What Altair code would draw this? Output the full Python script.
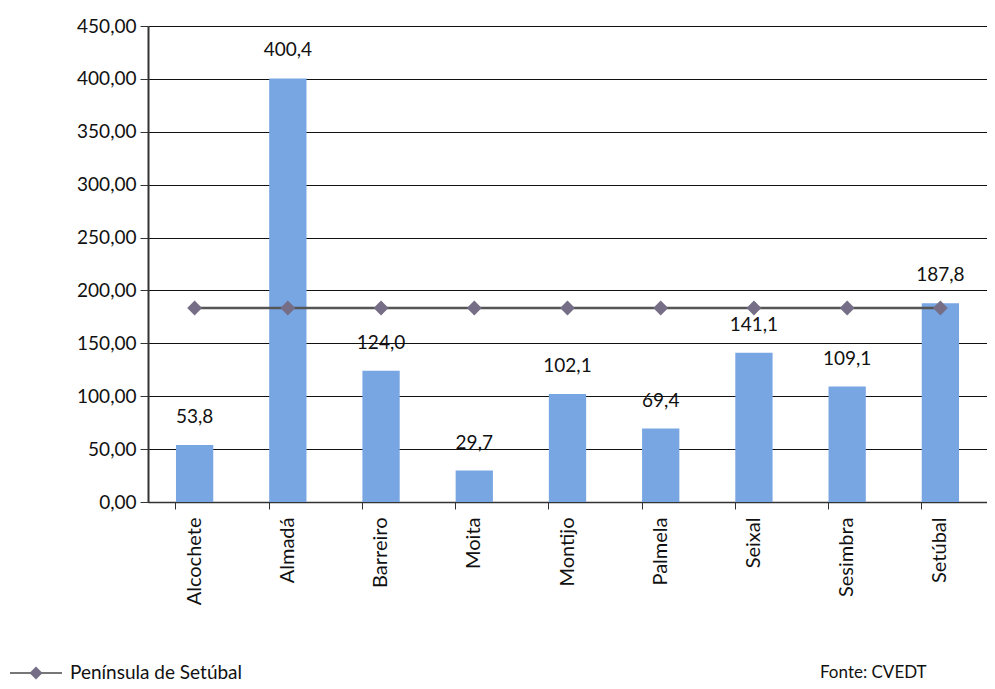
import altair as alt
import pandas as pd

municipios = ["Alcochete", "Almadá", "Barreiro", "Moita", "Montijo", "Palmela", "Seixal", "Sesimbra", "Setúbal"]
valores = [53.8, 400.4, 124.0, 29.7, 102.1, 69.4, 141.1, 109.1, 187.8]
peninsula = [183.4] * 9
rotulos = ["53,8", "400,4", "124,0", "29,7", "102,1", "69,4", "141,1", "109,1", "187,8"]

df = pd.DataFrame({"m": municipios, "v": valores, "p": peninsula, "r": rotulos})

FONT = "Lato"
x = alt.X("m:N", sort=municipios, title=None,
          scale=alt.Scale(paddingInner=0.6, paddingOuter=0.3),
          axis=alt.Axis(labelAngle=-90, labelFontSize=20, labelFont=FONT, labelColor="#111",
                        domainColor="#333", domainWidth=1.5, tickColor="#333", tickSize=7,
                        labelPadding=8, bandPosition=0, ticks=True))

base = alt.Chart(df)

bars = base.mark_bar(color="#78a6e3").encode(
    x=x,
    y=alt.Y("v:Q", title=None, scale=alt.Scale(domain=[0, 450]),
            axis=alt.Axis(values=list(range(0, 451, 50)), labelExpr="replace(format(datum.value, '.2f'), '.', ',')",
                          labelFontSize=19, labelFont=FONT, labelColor="#111",
                          domainColor="#333", domainWidth=2, tickColor="#333", tickSize=8,
                          gridColor="#111", gridWidth=1, labelPadding=4)),
)

labels = base.mark_text(baseline="middle", dy=-28, fontSize=19, font=FONT, color="#111").encode(
    x=alt.X("m:N", sort=municipios), y="v:Q", text="r:N"
)

line = base.mark_line(color="#555", strokeWidth=2.5).encode(
    x=alt.X("m:N", sort=municipios), y="p:Q"
)
pts = base.mark_point(shape="diamond", filled=True, size=220, color="#756e86", opacity=1).encode(
    x=alt.X("m:N", sort=municipios), y="p:Q"
)

LY = 647
leg_line = alt.Chart(pd.DataFrame({"a": [0]})).mark_rule(color="#777", strokeWidth=2).encode(
    x=alt.value(-138), x2=alt.value(-86), y=alt.value(LY)
)
leg_pt = alt.Chart(pd.DataFrame({"a": [0]})).mark_point(shape="diamond", filled=True, size=170, color="#756e86", opacity=1).encode(
    x=alt.value(-112), y=alt.value(LY)
)
leg_txt = alt.Chart(pd.DataFrame({"t": ["Península de Setúbal"]})).mark_text(
    align="left", baseline="middle", fontSize=19, font=FONT, color="#111"
).encode(x=alt.value(-78), y=alt.value(LY), text="t:N")
fonte = alt.Chart(pd.DataFrame({"t": ["Fonte: CVEDT"]})).mark_text(
    align="left", baseline="middle", fontSize=17, font=FONT, color="#111"
).encode(x=alt.value(672), y=alt.value(LY), text="t:N")

chart = alt.layer(bars, labels, line, pts, leg_line, leg_pt, leg_txt, fonte).properties(
    width=839, height=476,
    autosize=alt.AutoSizeParams(type="none"),
    padding={"left": 140, "top": 18, "right": 0, "bottom": 184},
).configure_view(stroke=None).configure(background="white")

chart.save("out.html", embed_options={"renderer": "svg", "actions": False})
